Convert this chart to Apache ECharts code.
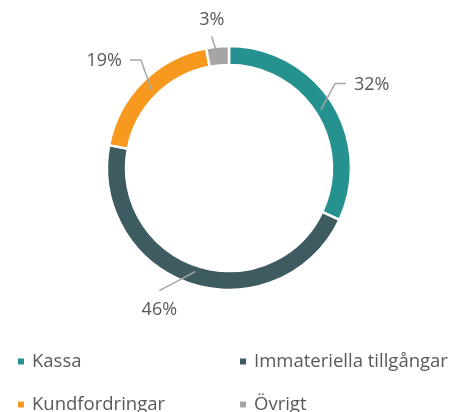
<!DOCTYPE html>
<html><head><meta charset="utf-8">
<script src="https://cdn.jsdelivr.net/npm/echarts@6/dist/echarts.min.js"></script>
<style>html,body{margin:0;padding:0;background:#fff}#c{width:454px;height:412px}</style>
</head><body><div id="c"></div>
<script>
const categories = ['Kassa', 'Immateriella tillgångar', 'Kundfordringar', 'Övrigt'];
const values = [32, 46, 19, 3];
const colors = ['#26928F', '#3D5B61', '#F7991F', '#A6A4A4'];

// label-line geometry (offsets from the line's start point), styling only
const lineBend = [[14, -26], [-36, 19], [-11, -31], [-7, -23]];
const lineTail = [11, 0, -11, 0];
const textPlace = [
  { dx: 8, dy: 1, align: 'left', verticalAlign: 'middle' },
  { dx: 0, dy: 19, align: 'center', verticalAlign: 'middle' },
  { dx: -8, dy: 1, align: 'right', verticalAlign: 'middle' },
  { dx: 0, dy: -17, align: 'center', verticalAlign: 'middle' }
];

const data = categories.map((n, i) => ({ name: n, value: values[i], itemStyle: { color: colors[i] } }));
const labelData = categories.map((n, i) => ({ name: n, value: values[i] }));
const font = '"Open Sans", "Noto Sans", sans-serif';
const txt = { fontFamily: font, fontSize: 18.5, color: '#595959', padding: [0, 0, 0, 2] };

const legendPos = [[16, 352], [238, 352], [16, 395], [238, 395]];
const legends = categories.map((c, i) => ({
  data: [c], left: legendPos[i][0], top: legendPos[i][1], padding: 0,
  itemWidth: 8, itemHeight: 8, icon: 'rect', textStyle: txt
}));

const chart = echarts.init(document.getElementById('c'), null, { renderer: 'canvas' });
chart.setOption({
  animation: false,
  legend: legends,
  series: [
    {
      type: 'pie', center: [229, 168], radius: [103, 122], startAngle: 90, clockwise: true,
      data: data, label: { show: false }, labelLine: { show: false },
      itemStyle: { borderColor: '#fff', borderWidth: 2.5 }, silent: true
    },
    {
      type: 'pie', center: [229, 168], radius: [0, 109], startAngle: 90, clockwise: true,
      data: labelData, silent: true, z: 5, legendHoverLink: false,
      itemStyle: { color: 'rgba(0,0,0,0)' },
      avoidLabelOverlap: false,
      label: { show: true, formatter: '{c}%', fontFamily: font, fontSize: 18, color: '#595959' },
      labelLine: { show: true, length: 20, length2: 10, lineStyle: { color: '#A6A6A6', width: 1.5 } },
      labelLayout: function (p) {
        const i = p.dataIndex;
        const p0 = p.labelLinePoints[0];
        const p1 = [p0[0] + lineBend[i][0], p0[1] + lineBend[i][1]];
        const p2 = [p1[0] + lineTail[i], p1[1]];
        const t = textPlace[i];
        return {
          x: p2[0] + t.dx, y: p2[1] + t.dy, align: t.align, verticalAlign: t.verticalAlign,
          labelLinePoints: [p0, p1, p2]
        };
      }
    }
  ]
});
</script></body></html>
